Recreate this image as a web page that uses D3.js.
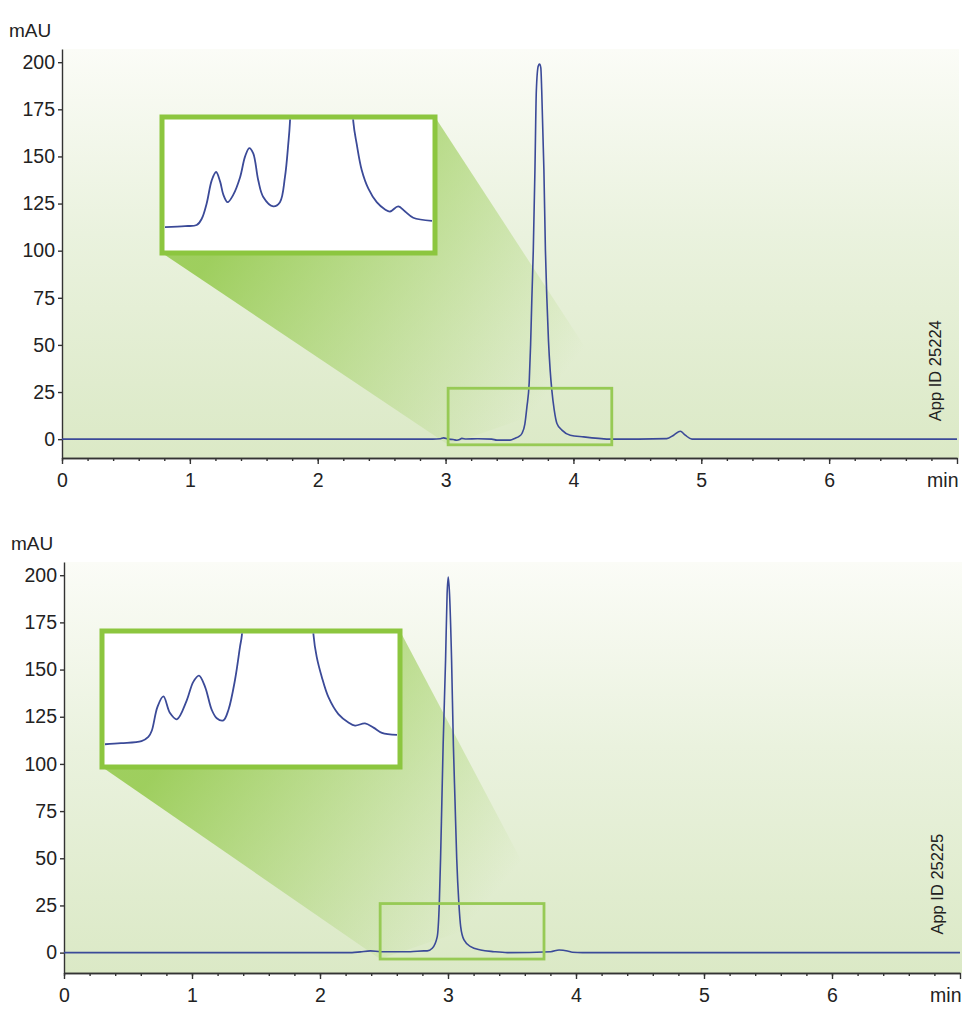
<!DOCTYPE html>
<html>
<head>
<meta charset="utf-8">
<script src="https://cdn.jsdelivr.net/npm/d3@7"></script>
<style>
body { margin: 0; background: #fff; }
text { font-family: "Liberation Sans", Arial, sans-serif; fill: #222; }
</style>
</head>
<body>
<div id="chart"></div>
<script>
// chromatogram 1 (App ID 25224), time in min, signal in mAU
var topTime = [0, 2.9, 2.96, 2.984, 3.023, 3.06, 3.088, 3.11, 3.127, 3.16, 3.25, 3.362, 3.401, 3.505, 3.545, 3.575, 3.597, 3.62, 3.636, 3.654,
    3.665, 3.675, 3.686, 3.699, 3.71, 3.725, 3.735, 3.745, 3.752, 3.769, 3.781, 3.792, 3.805, 3.818, 3.831, 3.85, 3.871, 3.91, 3.975,
    4.08, 4.197, 4.29, 4.73, 4.784, 4.836, 4.875, 4.927, 7.0];
var topSignal = [0, 0, 0.2, 0.7, 0, -0.2, -0.6, -0.2, 0.4, 0.1, 0.2, 0, -0.5, -0.5, 0.5, 1.5, 3, 8, 17, 30,
    50, 75, 100, 143, 185, 198, 199, 197, 185, 143, 100, 75, 52, 36.6, 26, 15.4, 8.3, 4.8, 2.1,
    1.2, 0.4, 0, 0.3, 2.1, 4.2, 2.1, 0, 0];

// chromatogram 2 (App ID 25225)
var bottomTime = [0, 2.25, 2.316, 2.394, 2.473, 2.707, 2.811, 2.838, 2.877, 2.916, 2.932, 2.942, 2.952, 2.962, 2.981, 2.993, 3.002,
    3.012, 3.028, 3.042, 3.055, 3.068, 3.085, 3.099, 3.125, 3.177, 3.255, 3.359, 3.464, 3.803, 3.868, 3.933, 3.972, 4.05, 7.0];
var bottomSignal = [0, 0, 0.4, 0.9, 0.5, 0.5, 0.9, 0.9, 2.3, 8.5, 26, 50, 80, 110, 155, 190, 199,
    190, 155, 110, 80, 50, 26, 13.8, 6.7, 3.2, 1.4, 0.5, 0, 0.5, 1.4, 0.9, 0.2, 0, 0];

// magnified views shown in the insets (mAU, strongly expanded)
var insetTopTime = [3.02, 3.116, 3.172, 3.196, 3.22, 3.244, 3.265, 3.284, 3.30, 3.32, 3.347, 3.38, 3.404, 3.424, 3.443, 3.467, 3.491,
    3.539, 3.571, 3.595, 3.611, 3.619, 3.635, 3.77, 3.905, 3.923, 3.939, 3.963, 3.995, 4.035, 4.075, 4.099, 4.138, 4.171, 4.21, 4.30];
var insetTopSignal = [0, 0.01, 0.02, 0.08, 0.23, 0.45, 0.53, 0.44, 0.31, 0.24, 0.31, 0.48, 0.68, 0.76, 0.71, 0.45, 0.29,
    0.2, 0.24, 0.48, 0.8, 1.01, 2, 6, 2, 1.01, 0.8, 0.55, 0.37, 0.24, 0.17, 0.15, 0.2, 0.15, 0.09, 0.06];

var insetBottomTime = [2.47, 2.54, 2.63, 2.66, 2.675, 2.70, 2.726, 2.755, 2.785, 2.828, 2.857, 2.882, 2.909, 2.938, 2.96, 2.989, 3.011,
    3.04, 3.062, 3.07, 3.09, 3.23, 3.37, 3.384, 3.398, 3.42, 3.45, 3.493, 3.537, 3.566, 3.61, 3.647, 3.684, 3.75];
var insetBottomSignal = [0, 0.01, 0.03, 0.07, 0.13, 0.36, 0.46, 0.3, 0.24, 0.42, 0.6, 0.66, 0.55, 0.33, 0.25, 0.23, 0.33,
    0.62, 0.94, 1.05, 2, 6, 2, 1.05, 0.84, 0.65, 0.45, 0.29, 0.21, 0.18, 0.2, 0.16, 0.11, 0.09];

var yTicks = [0, 25, 50, 75, 100, 125, 150, 175, 200];
var xTicks = [0, 1, 2, 3, 4, 5, 6, 7];
var xLastLabel = 'min';
var appIds = ['App ID 25224', 'App ID 25225'];

// zoom windows [t0, t1, mAU low, mAU high] and inset signal ranges
var zoomTop = [3.02, 4.3, -3, 27];
var zoomBottom = [2.47, 3.75, -3.4, 26];
var insetTopRange = [-0.22, 1.03];
var insetBottomRange = [-0.19, 1.06];

var WIDTH = 973, HEIGHT = 1024;
var LINE_COLOR = '#3b4a98', GREEN = '#8cc63f';

var svg = d3.select('#chart').append('svg')
    .attr('width', WIDTH)
    .attr('height', HEIGHT);
var defs = svg.append('defs');

var bg = defs.append('linearGradient').attr('id', 'bg')
    .attr('x1', 0).attr('y1', 0).attr('x2', 0).attr('y2', 1);
bg.append('stop').attr('offset', '0%').attr('stop-color', '#fbfcf7');
bg.append('stop').attr('offset', '45%').attr('stop-color', '#eaf2de');
bg.append('stop').attr('offset', '100%').attr('stop-color', '#dbe9c6');

var panels = [
    {id: 'a', x0: 62, x1: 957, yTop: 49, yBot: 458, yMin: -10, yMax: 207,
     time: topTime, signal: topSignal, zoom: zoomTop,
     inset: {x: 162, y: 117, w: 273, h: 136}, insetTime: insetTopTime, insetSignal: insetTopSignal, insetRange: insetTopRange,
     appId: appIds[0], appX: 941},
    {id: 'b', x0: 64, x1: 960, yTop: 562, yBot: 973, yMin: -10.8, yMax: 207,
     time: bottomTime, signal: bottomSignal, zoom: zoomBottom,
     inset: {x: 102, y: 631, w: 298, h: 136}, insetTime: insetBottomTime, insetSignal: insetBottomSignal, insetRange: insetBottomRange,
     appId: appIds[1], appX: 943}
];

function drawPanel(p){
    var x = d3.scaleLinear().domain([0, 7]).range([p.x0, p.x1]);
    var y = d3.scaleLinear().domain([p.yMin, p.yMax]).range([p.yBot, p.yTop]);
    var g = svg.append('g').attr('id', 'panel-' + p.id);

    g.append('rect')
        .attr('x', p.x0).attr('y', p.yTop)
        .attr('width', p.x1 - p.x0 + 2).attr('height', p.yBot - p.yTop)
        .attr('fill', 'url(#bg)');

    // zoom box
    var bx0 = x(p.zoom[0]), bx1 = x(p.zoom[1]), by0 = y(p.zoom[3]), by1 = y(p.zoom[2]);
    var ins = p.inset;

    // cone from inset to zoom box
    var cg = defs.append('linearGradient').attr('id', 'cone-' + p.id)
        .attr('gradientUnits', 'userSpaceOnUse')
        .attr('x1', ins.x + ins.w * 0.35).attr('y1', ins.y + ins.h * 0.6)
        .attr('x2', (bx0 + bx1) / 2).attr('y2', (by0 + by1) / 2);
    cg.append('stop').attr('offset', '0%').attr('stop-color', GREEN).attr('stop-opacity', 0.8);
    cg.append('stop').attr('offset', '100%').attr('stop-color', GREEN).attr('stop-opacity', 0);

    g.append('path')
        .attr('d', d3.line()([[ins.x + ins.w, ins.y], [bx1, by0], [bx0, by1], [ins.x, ins.y + ins.h]]) + 'Z')
        .attr('fill', 'url(#cone-' + p.id + ')');

    // axes
    var yAxis = d3.axisLeft(y).tickValues(yTicks).tickSize(4).tickSizeOuter(0).tickPadding(3);
    var xMinor = d3.axisBottom(x).tickValues(d3.range(0, 35).map(function(i){ return i / 5; }))
        .tickSize(3).tickSizeOuter(0).tickFormat('');
    var xAxis = d3.axisBottom(x).tickValues(xTicks).tickSize(6).tickSizeOuter(0).tickPadding(9)
        .tickFormat(function(d){ return d === 7 ? xLastLabel : d; });

    g.append('g').attr('transform', 'translate(' + p.x0 + ',0)').call(yAxis);
    g.append('g').attr('transform', 'translate(0,' + p.yBot + ')').call(xMinor);
    var xa = g.append('g').attr('transform', 'translate(0,' + p.yBot + ')').call(xAxis);
    xa.selectAll('text').filter(function(d){ return d === 7; }).attr('text-anchor', 'end').attr('x', 1);

    g.selectAll('.domain, .tick line').attr('stroke', '#333').attr('stroke-width', 1.4);
    g.selectAll('.tick text').style('font-size', '19.5px').attr('fill', '#222');

    g.append('text').attr('x', p.x0 - 53).attr('y', p.yTop - 12)
        .style('font-size', '19px').text('mAU');

    // trace
    var pts = p.time.map(function(t, i){ return [t, p.signal[i]]; });
    var line = d3.line()
        .x(function(d){ return x(d[0]); })
        .y(function(d){ return y(d[1]); })
        .curve(d3.curveMonotoneX);
    g.append('path').datum(pts)
        .attr('d', line)
        .attr('fill', 'none')
        .attr('stroke', LINE_COLOR)
        .attr('stroke-width', 1.6);

    g.append('rect')
        .attr('x', bx0).attr('y', by0)
        .attr('width', bx1 - bx0).attr('height', by1 - by0)
        .attr('fill', 'none')
        .attr('stroke', '#97ca55')
        .attr('stroke-width', 2.8);

    // inset
    g.append('rect')
        .attr('x', ins.x).attr('y', ins.y)
        .attr('width', ins.w).attr('height', ins.h)
        .attr('fill', '#fff')
        .attr('stroke', GREEN)
        .attr('stroke-width', 5);

    var ix = d3.scaleLinear().domain([p.zoom[0], p.zoom[1]]).range([ins.x + 3, ins.x + ins.w - 3]);
    var iy = d3.scaleLinear().domain(p.insetRange).range([ins.y + ins.h - 3, ins.y + 3]);
    defs.append('clipPath').attr('id', 'clip-' + p.id)
        .append('rect')
        .attr('x', ins.x + 2.5).attr('y', ins.y + 2.5)
        .attr('width', ins.w - 5).attr('height', ins.h - 5);

    var ipts = p.insetTime.map(function(t, i){ return [t, p.insetSignal[i]]; });
    g.append('path').datum(ipts)
        .attr('clip-path', 'url(#clip-' + p.id + ')')
        .attr('d', d3.line()
            .x(function(d){ return ix(d[0]); })
            .y(function(d){ return iy(d[1]); })
            .curve(d3.curveCatmullRom.alpha(0.5)))
        .attr('fill', 'none')
        .attr('stroke', LINE_COLOR)
        .attr('stroke-width', 1.8);

    g.append('text')
        .attr('transform', 'translate(' + p.appX + ',' + (y(0) - 18) + ') rotate(-90)')
        .style('font-size', '16.5px')
        .text(p.appId);
}

panels.forEach(drawPanel);
</script>
</body>
</html>
